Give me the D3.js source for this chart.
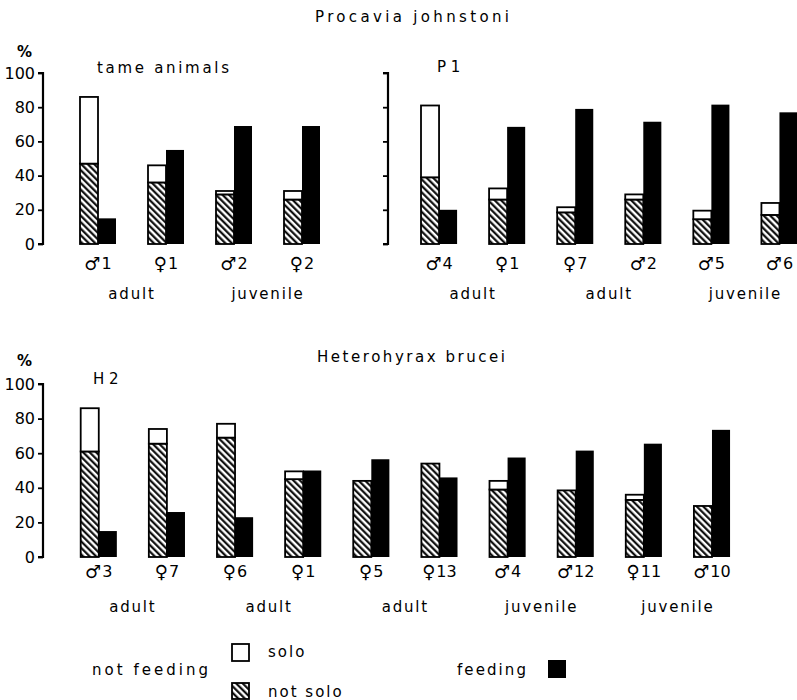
<!DOCTYPE html>
<html>
<head>
<meta charset="utf-8">
<script src="https://cdn.jsdelivr.net/npm/d3@7"></script>
<style>
  html, body { margin: 0; padding: 0; background: #fff; }
  svg { display: block; }
  text { font-family: "DejaVu Sans", sans-serif; fill: #000; }
</style>
</head>
<body>
<div id="chart"></div>
<script>
// ---------- DATA ----------
// Procavia johnstoni – tame animals
const tameCats     = ["♂1", "♀1", "♂2", "♀2"];
const tameNotSolo  = [47, 36, 29, 26];
const tameSolo     = [39, 10, 2, 5];
const tameFeeding  = [15, 55, 69, 69];
const tameGroups   = ["adult", "juvenile"];
const tameGroupIdx = [[0, 1], [2, 3]];

// Procavia johnstoni – P1
const p1Cats     = ["♂4", "♀1", "♀7", "♂2", "♂5", "♂6"];
const p1NotSolo  = [39, 26, 18.5, 26, 14.5, 17];
const p1Solo     = [42, 6.5, 3, 3, 5, 7];
const p1Feeding  = [20, 68.5, 79, 71.5, 81.5, 77];
const p1Groups   = ["adult", "adult", "juvenile"];
const p1GroupIdx = [[0, 1], [2, 3], [4, 5]];

// Heterohyrax brucei – H2
const h2Cats     = ["♂3", "♀7", "♀6", "♀1", "♀5", "♀13", "♂4", "♂12", "♀11", "♂10"];
const h2NotSolo  = [61, 65.5, 69, 45, 44, 54, 39, 38.5, 33, 29.5];
const h2Solo     = [25, 8.5, 8, 4.5, 0, 0, 5, 0, 3, 0];
const h2Feeding  = [15, 26, 23, 50, 56.5, 46, 57.5, 61.5, 65.5, 73.5];
const h2Groups   = ["adult", "adult", "adult", "juvenile", "juvenile"];
const h2GroupIdx = [[0, 1], [2, 3], [4, 5], [6, 7], [8, 9]];

const yTicks = [0, 20, 40, 60, 80, 100];

// ---------- SVG ----------
const W = 797, H = 700;
const svg = d3.select("#chart").append("svg")
  .attr("width", W).attr("height", H)
  .attr("viewBox", `0 0 ${W} ${H}`);

// hatch pattern
const defs = svg.append("defs");
const pat = defs.append("pattern")
  .attr("id", "hatch")
  .attr("patternUnits", "userSpaceOnUse")
  .attr("width", 4.6).attr("height", 4.6)
  .attr("patternTransform", "rotate(-45)");
pat.append("rect").attr("width", 4.6).attr("height", 4.6).attr("fill", "#fff");
pat.append("line")
  .attr("x1", 1.2).attr("y1", 0).attr("x2", 1.2).attr("y2", 4.6)
  .attr("stroke", "#000").attr("stroke-width", 2.1);

function label(sel, x, y, txt, opts = {}) {
  const t = sel.append("text")
    .attr("x", x).attr("y", y)
    .attr("font-size", opts.size || 15)
    .attr("letter-spacing", opts.ls != null ? opts.ls : 2)
    .attr("text-anchor", opts.anchor || "start")
    .text(txt);
  if (opts.len) t.attr("textLength", opts.len).attr("lengthAdjust", "spacing");
  if (opts.weight) t.attr("font-weight", opts.weight);
  return t;
}

function panel(cfg) {
  const g = svg.append("g");
  const n = cfg.cats.length;
  const step = cfg.step;
  const x = d3.scaleBand()
    .domain(d3.range(n))
    .range([cfg.x0, cfg.x0 + step * (n - 1) + 36])
    .paddingInner(32 / step)
    .paddingOuter(0);
  const sub = d3.scaleBand().domain(["nf", "f"]).range([0, x.bandwidth()]);
  const y = d3.scaleLinear().domain([0, 100]).range([cfg.yBottom, cfg.yTop]);

  // axis
  const axis = d3.axisLeft(y).tickValues(yTicks).tickSize(5).tickPadding(3)
    .tickFormat(cfg.tickLabels ? d3.format("d") : () => "");
  const ag = g.append("g").attr("transform", `translate(${cfg.axisX},0)`).call(axis);
  ag.select(".domain").attr("d", `M-5,${y(100)}H0V${y(0)}H-5`).attr("stroke-width", 2.2);
  ag.selectAll(".tick line").attr("stroke-width", 1.8);
  ag.selectAll(".tick text").attr("font-size", 16).attr("font-family", "DejaVu Sans, sans-serif");

  const idx = d3.range(n);
  // not solo (hatched)
  g.selectAll("rect.ns").data(idx).join("rect").attr("class", "ns")
    .attr("x", i => x(i) + sub("nf"))
    .attr("y", i => y(cfg.notSolo[i]))
    .attr("width", sub.bandwidth())
    .attr("height", i => y(0) - y(cfg.notSolo[i]))
    .attr("fill", "url(#hatch)").attr("stroke", "#000").attr("stroke-width", 1.8);
  // solo (white) stacked on top
  g.selectAll("rect.so").data(idx.filter(i => cfg.solo[i] > 0)).join("rect").attr("class", "so")
    .attr("x", i => x(i) + sub("nf"))
    .attr("y", i => y(cfg.notSolo[i] + cfg.solo[i]))
    .attr("width", sub.bandwidth())
    .attr("height", i => y(cfg.notSolo[i]) - y(cfg.notSolo[i] + cfg.solo[i]))
    .attr("fill", "#fff").attr("stroke", "#000").attr("stroke-width", 1.8);
  // feeding (black)
  g.selectAll("rect.fe").data(idx).join("rect").attr("class", "fe")
    .attr("x", i => x(i) + sub("f"))
    .attr("y", i => y(cfg.feeding[i]))
    .attr("width", sub.bandwidth())
    .attr("height", i => y(0) - y(cfg.feeding[i]))
    .attr("fill", "#000");

  // category labels
  idx.forEach(i => {
    const c = cfg.cats[i];
    const t = g.append("text")
      .attr("x", x(i) + x.bandwidth() / 2)
      .attr("y", cfg.catY)
      .attr("text-anchor", "middle")
      .attr("font-size", 18);
    t.append("tspan").text(c[0]);
    t.append("tspan").attr("dx", 1).attr("dy", -1).attr("font-size", 16).text(c.slice(1));
  });

  // group labels
  cfg.groups.forEach((lab, k) => {
    const [a, b] = cfg.groupIdx[k];
    const cx = (x(a) + x(b) + x.bandwidth()) / 2;
    label(g, cx, cfg.groupY, lab, { anchor: "middle", size: 15, ls: 1.8 });
  });
}

// titles
label(svg, 315, 22, "Procavia johnstoni", { size: 15, len: 196 });
label(svg, 317, 362, "Heterohyrax brucei", { size: 15, len: 190 });
label(svg, 17, 57, "%", { size: 15, ls: 0, weight: "bold" });
label(svg, 17, 366, "%", { size: 15, ls: 0, weight: "bold" });
label(svg, 97, 73, "tame animals", { size: 15, len: 134 });
label(svg, 437, 72, "P 1", { size: 15, ls: 0 });
label(svg, 93, 384, "H 2", { size: 15, ls: 0 });

panel({ cats: tameCats, notSolo: tameNotSolo, solo: tameSolo, feeding: tameFeeding,
        groups: tameGroups, groupIdx: tameGroupIdx,
        x0: 80, step: 68, axisX: 43, yBottom: 244, yTop: 73, tickLabels: true,
        catY: 270, groupY: 299 });
panel({ cats: p1Cats, notSolo: p1NotSolo, solo: p1Solo, feeding: p1Feeding,
        groups: p1Groups, groupIdx: p1GroupIdx,
        x0: 421, step: 68.1, axisX: 388, yBottom: 244, yTop: 73, tickLabels: false,
        catY: 270, groupY: 299 });
panel({ cats: h2Cats, notSolo: h2NotSolo, solo: h2Solo, feeding: h2Feeding,
        groups: h2Groups, groupIdx: h2GroupIdx,
        x0: 80.7, step: 68.15, axisX: 43, yBottom: 557, yTop: 384, tickLabels: true,
        catY: 578, groupY: 612 });

// legend
const lg = svg.append("g");
label(lg, 92, 675, "not feeding", { size: 15, len: 118 });
lg.append("rect").attr("x", 232).attr("y", 644).attr("width", 17).attr("height", 17)
  .attr("fill", "#fff").attr("stroke", "#000").attr("stroke-width", 1.8);
label(lg, 268, 657, "solo", { size: 15, ls: 2 });
lg.append("rect").attr("x", 232).attr("y", 683).attr("width", 17).attr("height", 16)
  .attr("fill", "url(#hatch)").attr("stroke", "#000").attr("stroke-width", 1.8);
label(lg, 268, 697, "not solo", { size: 15, ls: 2 });
label(lg, 457, 675, "feeding", { size: 15, len: 71 });
lg.append("rect").attr("x", 548).attr("y", 660).attr("width", 18).attr("height", 18)
  .attr("fill", "#000");
</script>
</body>
</html>
